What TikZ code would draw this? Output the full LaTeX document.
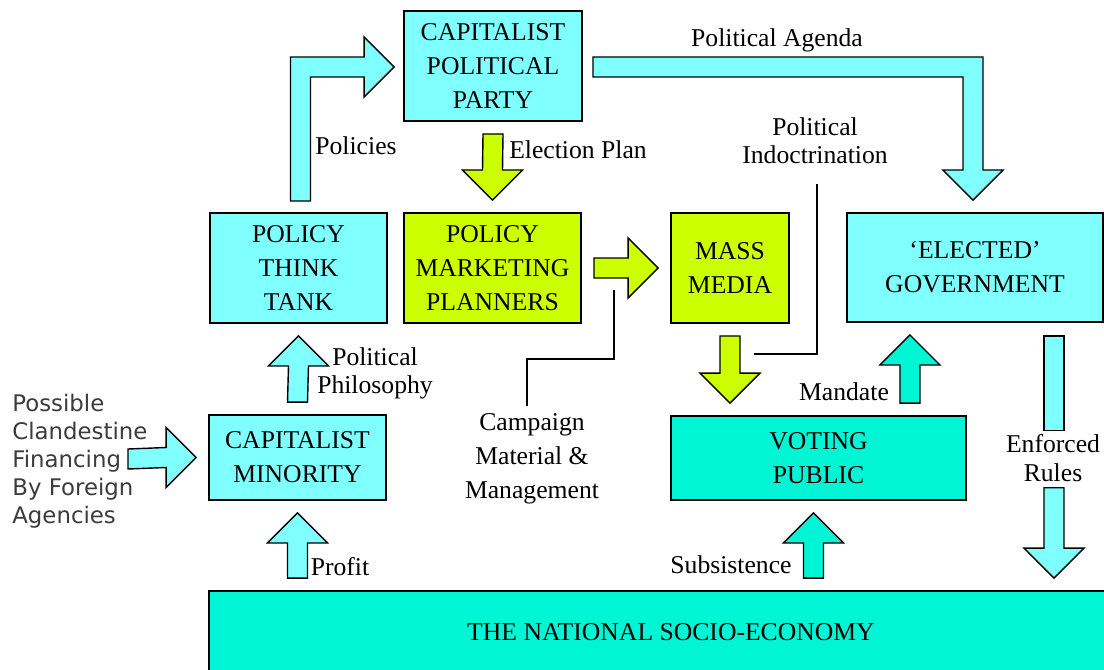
\documentclass[tikz,border=0pt]{standalone}
\usepackage{fontspec}
\setmainfont{Liberation Serif}
\newfontfamily\finfont{DejaVu Sans}
\usetikzlibrary{calc}

\definecolor{cyanbox}{HTML}{80FFFF}
\definecolor{limebox}{HTML}{CCFF00}
\definecolor{tealbox}{HTML}{00F5D4}
\definecolor{fingray}{HTML}{3C3C3C}

% block arrows, 12 units clear of both ends
\newcommand{\arrUp}[3]{\path[draw, fill=#1, blockarr] ($(#2)+(-10,-12)$) -- ($(#3)+(-10,42)$) -- ($(#3)+(-30,42)$) -- ($(#3)+(0,12)$) -- ($(#3)+(30,42)$) -- ($(#3)+(10,42)$) -- ($(#2)+(10,-12)$) -- cycle;}
\newcommand{\arrDown}[3]{\path[draw, fill=#1, blockarr] ($(#2)+(-10,12)$) -- ($(#3)+(-10,-42)$) -- ($(#3)+(-30,-42)$) -- ($(#3)+(0,-12)$) -- ($(#3)+(30,-42)$) -- ($(#3)+(10,-42)$) -- ($(#2)+(10,12)$) -- cycle;}
\newcommand{\arrRight}[3]{\path[draw, fill=#1, blockarr] ($(#2)+(12,-10)$) -- ($(#3)+(-42,-10)$) -- ($(#3)+(-42,-30)$) -- ($(#3)+(-12,0)$) -- ($(#3)+(-42,30)$) -- ($(#3)+(-42,10)$) -- ($(#2)+(12,10)$) -- cycle;}

\begin{document}
\begin{tikzpicture}[x=0.02cm, y=-0.02cm,
    box/.style={draw, line width=1.1pt, align=center, inner sep=0pt, font=\fontsize{14.6}{19.3}\selectfont},
    lbl/.style={align=center, inner sep=1pt, font=\fontsize{14.6}{15.9}\selectfont},
    blockarr/.style={line width=0.8pt, line join=miter},
    conn/.style={line width=0.8pt}]

\useasboundingbox (0,0) rectangle (1104,669);
\clip (0,0) rectangle (1104,669);
\fill[white] (0,0) rectangle (1104,669);

% boxes
\node[box, fill=cyanbox, minimum width=3.56cm, minimum height=2.2cm] (party) at (493,66) {CAPITALIST\\POLITICAL\\PARTY};
\node[box, fill=cyanbox, minimum width=3.54cm, minimum height=2.2cm] (think) at (298.5,268) {POLICY\\THINK\\TANK};
\node[box, fill=limebox, minimum width=3.54cm, minimum height=2.2cm] (planners) at (492.5,268) {POLICY\\MARKETING\\PLANNERS};
\node[box, fill=limebox, minimum width=2.36cm, minimum height=2.2cm] (media) at (730,268) {MASS\\MEDIA};
\node[box, fill=cyanbox, minimum width=5.12cm, minimum height=2.18cm] (govt) at (975,267.5) {‘ELECTED’\\GOVERNMENT};
\node[box, fill=cyanbox, minimum width=3.54cm, minimum height=1.7cm] (minority) at (297.5,457.5) {CAPITALIST\\MINORITY};
\node[box, fill=tealbox, minimum width=5.9cm, minimum height=1.68cm] (voting) at (818.5,458) {VOTING\\PUBLIC};
\node[box, fill=tealbox, minimum width=18.48cm, minimum height=1.64cm] (socio) at (671,632) {THE NATIONAL SOCIO-ECONOMY};

% labels
\node[lbl] (agenda) at (777,40) {Political Agenda};
\node[lbl] (indoc) at (815,141) {Political\\Indoctrination};
\node[lbl] (policies) at (356,146) {Policies};
\node[lbl] (elect) at (578,150) {Election Plan};
\node[lbl] (philo) at (375,373) {Political\\Philosophy};
\node[lbl] (profit) at (340,567) {Profit};
\node[lbl, font=\fontsize{14.6}{19.3}\selectfont] (camp) at (532,459) {Campaign\\Material \&\\Management};
\node[lbl] (mandate) at (844,392) {Mandate};
\node[lbl] (subs) at (731,565) {Subsistence};
\node[lbl, font=\fontsize{14.6}{16.5}\selectfont] (enfl) at (1053,458) {Enforced\\Rules};
\node[align=left, anchor=west, inner sep=0pt, text=fingray, font=\finfont\fontsize{13}{15.9}\selectfont] (fin) at (12,461) {Possible\\Clandestine\\Financing\\By Foreign\\Agencies};

% bent arrows
\coordinate (polA) at ($(think.north)+(2,-11)$);
\coordinate (polB) at ($(party.west)+(-9,1)$);
\path[draw, fill=cyanbox, blockarr] ($(polA)+(-10,0)$) -- ($(polA |- polB)+(-10,-10)$) -- ($(polB)+(-30,-10)$) -- ($(polB)+(-30,-30)$) -- (polB) -- ($(polB)+(-30,30)$) -- ($(polB)+(-30,10)$) -- ($(polA |- polB)+(10,10)$) -- ($(polA)+(10,0)$) -- cycle;

\coordinate (agA) at ($(party.east)+(10,1)$);
\coordinate (agB) at ($(govt.north)+(-2,-12)$);
\path[draw, fill=cyanbox, blockarr] ($(agA)+(0,-10)$) -- ($(agA -| agB)+(10,-10)$) -- ($(agB)+(10,-30)$) -- ($(agB)+(30,-30)$) -- (agB) -- ($(agB)+(-30,-30)$) -- ($(agB)+(-10,-30)$) -- ($(agA -| agB)+(-10,10)$) -- ($(agA)+(0,10)$) -- cycle;

% straight arrows
\arrUp{cyanbox}{socio.north -| minority}{minority.south}
\arrUp{cyanbox}{minority.north}{think.south}
\coordinate (finA) at (116,459);
\arrRight{cyanbox}{finA}{minority.west}
\arrDown{limebox}{party.south}{planners.north}
\arrRight{limebox}{planners.east}{media.west}
\arrDown{limebox}{media.south}{media.south |- voting.north}
\coordinate (mandx) at ($(voting.north east)+(-57,0)$);
\arrUp{tealbox}{mandx}{mandx |- govt.south}
\coordinate (subx) at ($(voting.south)+(-5,0)$);
\arrUp{tealbox}{subx |- socio.north}{subx}

% enforced rules, split round its label
\coordinate (enfx) at ($(govt.south east)+(-50,0)$);
\path[draw, fill=cyanbox, blockarr] ($(enfx)+(-10,13)$) rectangle ($(enfl.north -| enfx)+(10,-2)$);
\coordinate (enfB) at ($(enfl.south -| enfx)+(0,-8)$);
\arrDown{cyanbox}{enfB}{enfx |- socio.north}

% thin leader lines
\coordinate (campend) at ($(planners.east)+(32,22)$);
\draw[conn] ($(camp.north)+(-5,-6)$) |- ($(campend)+(0,69)$) -- (campend);
\coordinate (indend) at ($(media.south)+(24,30)$);
\draw[conn] ($(indoc.south)+(2,18)$) |- (indend);

\end{tikzpicture}
\end{document}
